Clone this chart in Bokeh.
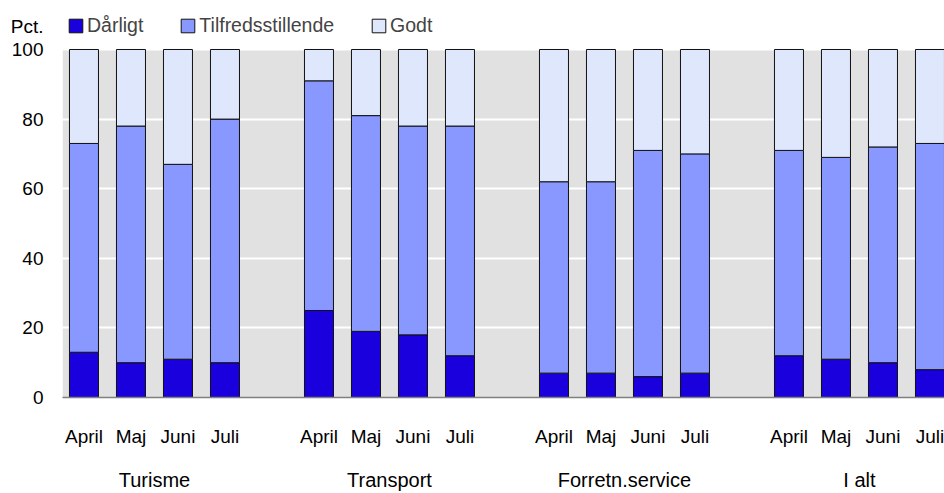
from bokeh.plotting import figure
from bokeh.models import (Range1d, FixedTicker, LinearAxis, Legend, LegendItem,
                          BoxAnnotation, ColumnDataSource)
from bokeh.embed import file_html
from bokeh.resources import INLINE

groups = ["Turisme", "Transport", "Forretn.service", "I alt"]
months = ["April", "Maj", "Juni", "Juli"]
series = ["Dårligt", "Tilfredsstillende", "Godt"]
colors = ["#1a00dd", "#8898ff", "#dfe7fc"]

daarligt = [13, 10, 11, 10,  25, 19, 18, 12,  7, 7, 6, 7,  12, 11, 10, 8]
tilfreds = [60, 68, 56, 70,  66, 62, 60, 66,  55, 55, 65, 63,  59, 58, 62, 65]
godt     = [27, 22, 33, 20,   9, 19, 22, 22,  38, 38, 29, 30,  29, 31, 28, 27]
yticks = [0, 20, 40, 60, 80, 100]
unit_label = "Pct."
unit_pos = 106.6

FONT = "Liberation Sans"
slot = len(months) + 1
xs, mlabels = [], []
for gi, g in enumerate(groups):
    for mi, m in enumerate(months):
        xs.append(gi * slot + mi)
        mlabels.append(m)
gcenters = [gi * slot + (len(months) - 1) / 2 for gi in range(len(groups))]

src = ColumnDataSource(dict(x=xs, **{series[0]: daarligt, series[1]: tilfreds, series[2]: godt}))

p = figure(width=944, height=493, output_backend="svg", toolbar_location=None,
           x_range=Range1d(-0.457, 18.309), y_range=Range1d(0, 114.08),
           min_border_left=62, min_border_right=0, min_border_top=0, min_border_bottom=96,
           x_axis_location=None)
p.background_fill_color = "white"
p.border_fill_color = "white"
p.outline_line_color = None

p.add_layout(BoxAnnotation(bottom=yticks[0], top=yticks[-1], fill_color="#e1e1e1",
                           fill_alpha=1, line_color=None, level="image"))

rs = p.vbar_stack(series, x="x", width=0.617, source=src, color=colors,
                  line_color="#111111", line_width=1)

p.xgrid.visible = False
p.ygrid.ticker = FixedTicker(ticks=yticks)
p.ygrid.grid_line_color = "white"
p.ygrid.grid_line_width = 2

p.yaxis.ticker = FixedTicker(ticks=yticks + [unit_pos])
p.yaxis.major_label_overrides = {float(unit_pos): unit_label}
p.yaxis.axis_line_color = None
p.yaxis.major_tick_line_color = None
p.yaxis.minor_tick_line_color = None
p.yaxis.major_tick_out = 0
p.yaxis.major_tick_in = 0
p.yaxis.major_label_standoff = 19
p.yaxis.major_label_text_font = FONT
p.yaxis.major_label_text_font_size = "19px"
p.yaxis.major_label_text_color = "black"

ax1 = LinearAxis(ticker=FixedTicker(ticks=xs),
                 major_label_overrides={float(x): l for x, l in zip(xs, mlabels)})
ax1.axis_line_color = "#808080"
ax1.axis_line_width = 1.5
ax1.major_tick_line_color = None
ax1.minor_tick_line_color = None
ax1.major_tick_out = 0
ax1.major_tick_in = 0
ax1.major_label_standoff = 28
ax1.major_label_text_font = FONT
ax1.major_label_text_font_size = "19px"
ax1.major_label_text_color = "black"
p.add_layout(ax1, "below")

ax2 = LinearAxis(ticker=FixedTicker(ticks=gcenters),
                 major_label_overrides={float(x): g for x, g in zip(gcenters, groups)})
ax2.axis_line_color = None
ax2.major_tick_line_color = None
ax2.minor_tick_line_color = None
ax2.major_tick_out = 0
ax2.major_tick_in = 0
ax2.major_label_standoff = 19
ax2.major_label_text_font = FONT
ax2.major_label_text_font_size = "20px"
ax2.major_label_text_color = "black"
p.add_layout(ax2, "below")

legend = Legend(items=[LegendItem(label=s, renderers=[r]) for s, r in zip(series, rs)],
                orientation="horizontal", location=(5, 360),
                label_text_font=FONT, label_text_font_size="19.5px",
                glyph_width=17, glyph_height=17, label_standoff=3, spacing=36,
                padding=0, margin=0, background_fill_alpha=0, border_line_color=None)
p.add_layout(legend)

open("out.html", "w").write(file_html(p, INLINE))
